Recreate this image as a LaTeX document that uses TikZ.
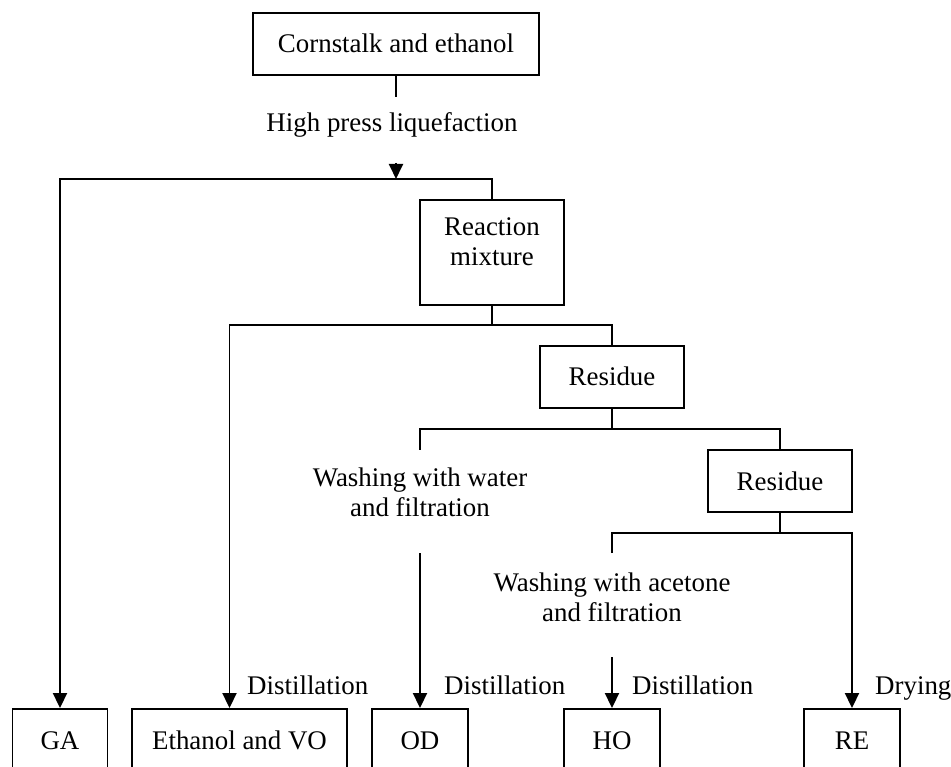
\documentclass[tikz,border=0pt]{standalone}
\usepackage{fontspec}
\setmainfont{Liberation Serif}
\usetikzlibrary{arrows.meta}
\begin{document}
\begin{tikzpicture}[x=1pt,y=-1pt,
  box/.style={draw, line width=1.9pt, inner sep=0pt, font=\fontsize{26.9}{30}\selectfont, text height=20pt, text depth=2pt},
  txt/.style={inner sep=0pt, align=center, font=\fontsize{26.9}{30}\selectfont},
  lbl/.style={inner sep=0pt, font=\fontsize{26.9}{30}\selectfont, text height=20pt, text depth=2pt},
  ln/.style={line width=1.9pt},
  arr/.style={line width=1.9pt, -{Triangle[width=14pt,length=15pt]}}
]
\clip (0,0) rectangle (951,767);
\useasboundingbox (0,0) rectangle (951,767);

% boxes
\node[box, minimum width=286, minimum height=62] (top) at (396,44) {Cornstalk and ethanol};
\node[lbl] (hp) at (392,123) {High press liquefaction};
\node[box, minimum width=144, minimum height=105] (rm) at (492,252.5) {};
\node[txt] (rmt) at (492,242) {Reaction\\mixture};
\node[box, minimum width=144, minimum height=62] (r1) at (612,377) {Residue};
\node[box, minimum width=144, minimum height=62] (r2) at (780,481) {Residue};
\node[txt] (ww) at (420,492) {Washing with water\\and filtration};
\node[txt] (wa) at (612,597) {Washing with acetone\\and filtration};

\node[box, minimum width=95, minimum height=62] (ga) at (60,740) {GA};
\node[box, minimum width=215, minimum height=62] (eth) at (239.5,740) {Ethanol and VO};
\node[box, minimum width=96, minimum height=62] (od) at (420,740) {OD};
\node[box, minimum width=96, minimum height=62] (ho) at (612,740) {HO};
\node[box, minimum width=96, minimum height=62] (re) at (852,740) {RE};

\node[lbl, anchor=west] (d1) at (247,685) {Distillation};
\node[lbl, anchor=west] (d2) at (444,685) {Distillation};
\node[lbl, anchor=west] (d3) at (632,685) {Distillation};
\node[lbl, anchor=west] (dr) at (875,685) {Drying};

% helper coordinates
\coordinate (c1) at (396,97);
\coordinate (c2) at (396,163);
\coordinate (j0) at (396,179);
\coordinate (y2) at (0,325);
\coordinate (y3) at (0,429);
\coordinate (y4) at (0,533);
\coordinate (s1) at (420,450);
\coordinate (a1) at (420,553);
\coordinate (s2) at (612,553);
\coordinate (a2) at (612,657);

% connectors
\draw[ln] (top.south) -- (c1);
\draw[arr] (c2) -- (j0);
\draw[arr] (rm.north) -- (rm.north |- j0) -| (ga.north);

\draw[ln] (rm.south) -- (rm.south |- y2);
\draw[arr] (r1.north) -- (r1.north |- y2) -| ([xshift=-10pt]eth.north);

\draw[ln] (r1.south) -- (r1.south |- y3);
\draw[ln] (r2.north) -- (r2.north |- y3) -| (s1);
\draw[arr] (a1) -- (od.north);

\draw[ln] (r2.south) -- (r2.south |- y4);
\draw[arr] (s2) |- (re.north |- y4) -- (re.north);
\draw[arr] (a2) -- (ho.north);
\end{tikzpicture}
\end{document}
